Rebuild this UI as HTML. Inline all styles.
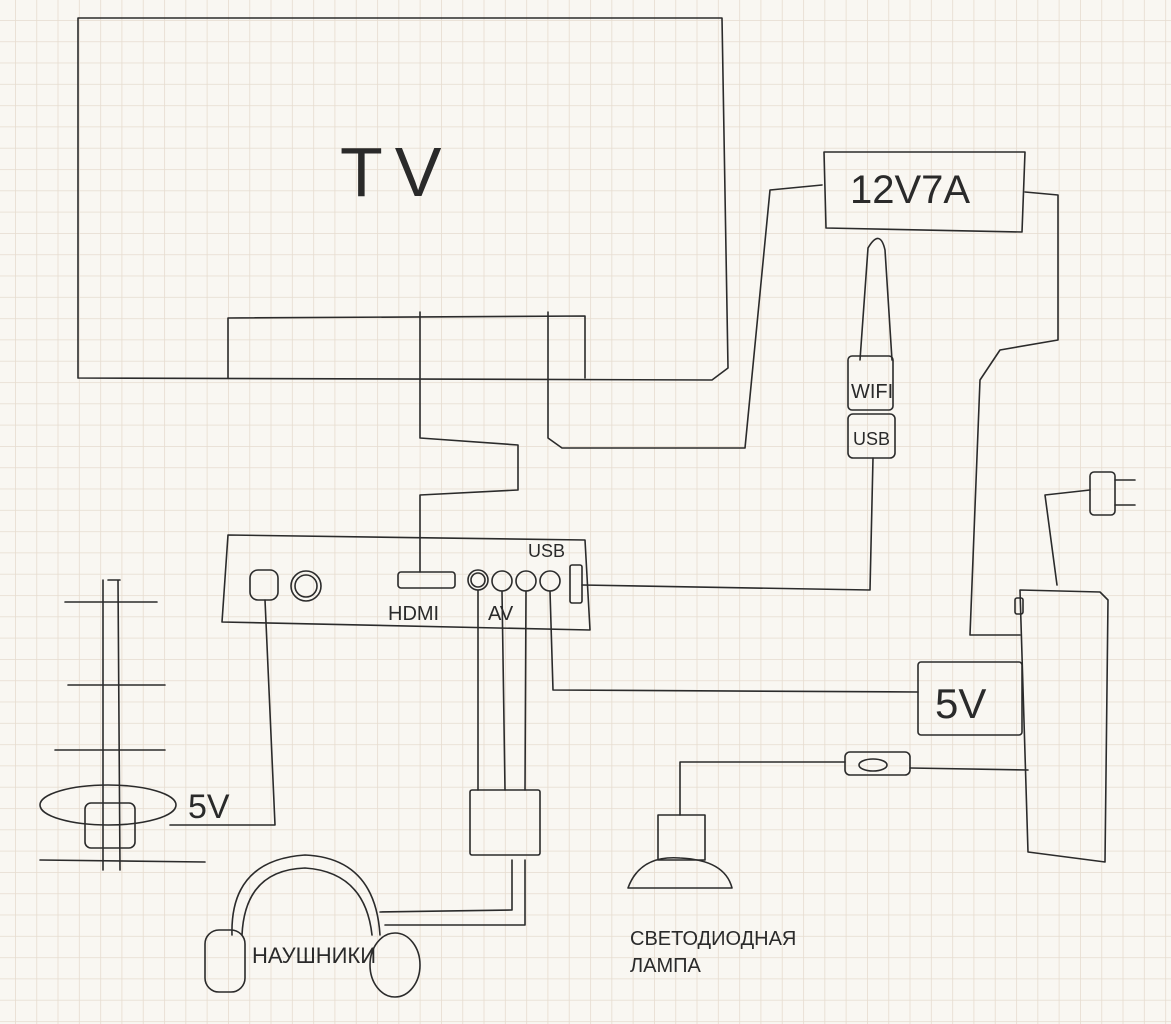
<!DOCTYPE html>
<html><head><meta charset="utf-8"><style>
html,body{margin:0;padding:0;background:#f9f7f2}
svg{display:block}
text{font-family:"Liberation Sans","DejaVu Sans",sans-serif;fill:#2a2a2a}
</style></head><body>
<svg width="1171" height="1024" viewBox="0 0 1171 1024" xmlns="http://www.w3.org/2000/svg">
<defs>
<pattern id="g" x="15" y="20" width="21.3" height="21.3" patternUnits="userSpaceOnUse">
<path d="M0 0H21.3M0 0V21.3" stroke="#e6dccf" stroke-width="1.6" fill="none"/>
</pattern>
</defs>
<rect width="1171" height="1024" fill="#f9f7f2"/>
<rect width="1171" height="1024" fill="url(#g)"/>
<g fill="none" stroke="#2b2b2b" stroke-width="1.6" stroke-linecap="round" stroke-linejoin="round">
<path d="M78 18 L722 18 L728 368 L712 380 L78 378 Z"/>
<path d="M228 378 L228 318 L585 316 L585 378"/>
<path d="M420 312 L420 438 L518 445 L518 490 L420 495 L420 572"/>
<path d="M548 312 L548 438 L562 448 L745 448 L770 190 L822 185"/>
<path d="M824 152 L1025 152 L1022 232 L826 228 Z"/>
<path d="M1025 192 L1058 195 L1058 340 L1000 350 L980 380 L970 635 L1020 635"/>
<path d="M860 360 L868 248 Q880 228 885 250 L892 360"/>
<rect x="848" y="356" width="45" height="54" rx="4"/>
<rect x="848" y="414" width="47" height="44" rx="5"/>
<path d="M873 458 L870 590 L582 585"/>
<path d="M228 535 L585 540 L590 630 L222 622 Z"/>
<rect x="250" y="570" width="28" height="30" rx="8"/>
<circle cx="306" cy="586" r="15"/><circle cx="306" cy="586" r="11"/>
<rect x="398" y="572" width="57" height="16" rx="3"/>
<circle cx="478" cy="580" r="10"/><circle cx="478" cy="580" r="7"/>
<circle cx="502" cy="581" r="10"/><circle cx="526" cy="581" r="10"/><circle cx="550" cy="581" r="10"/>
<rect x="570" y="565" width="12" height="38" rx="2"/>
<path d="M265 600 L275 825 L170 825"/>
<path d="M65 602 L157 602 M68 685 L165 685 M55 750 L165 750 M40 860 L205 862"/>
<path d="M103 580 L103 870 M118 580 L120 870 M108 580 L120 580"/>
<ellipse cx="108" cy="805" rx="68" ry="20"/>
<rect x="85" y="803" width="50" height="45" rx="6"/>
<path d="M478 590 L478 790 M502 591 L505 790 M526 591 L525 790"/>
<rect x="470" y="790" width="70" height="65" rx="2"/>
<path d="M512 860 L512 910 L380 912 M525 860 L525 925 L385 925"/>
<path d="M232 935 Q230 860 305 855 Q375 858 380 935"/>
<path d="M242 935 Q245 870 305 868 Q365 872 372 935"/>
<rect x="205" y="930" width="40" height="62" rx="14"/>
<ellipse cx="395" cy="965" rx="25" ry="32"/>
<path d="M550 591 L553 690 L918 692"/>
<rect x="918" y="662" width="104" height="73" rx="3"/>
<path d="M1020 590 L1100 592 L1108 600 L1105 862 L1028 852 Z"/>
<rect x="1015" y="598" width="8" height="16" rx="2"/>
<path d="M1057 585 L1045 495 L1090 490"/>
<rect x="1090" y="472" width="25" height="43" rx="4"/>
<path d="M1115 480 L1135 480 M1115 505 L1135 505"/>
<rect x="845" y="752" width="65" height="23" rx="5"/>
<ellipse cx="873" cy="765" rx="14" ry="6"/>
<path d="M910 768 L1028 770 M845 762 L680 762 L680 815"/>
<rect x="658" y="815" width="47" height="45"/>
<path d="M628 888 Q640 855 680 858 Q725 860 732 888 Z"/>
</g>
<text x="340" y="196" font-size="70" fill="#333" style="letter-spacing:12px">TV</text>
<text x="850" y="203" font-size="40">12V7A</text>
<text x="851" y="398" font-size="20">WIFI</text>
<text x="853" y="445" font-size="18">USB</text>
<text x="528" y="557" font-size="18">USB</text>
<text x="388" y="620" font-size="20">HDMI</text>
<text x="488" y="620" font-size="20">AV</text>
<text x="188" y="818" font-size="34">5V</text>
<text x="935" y="718" font-size="42">5V</text>
<text x="252" y="963" font-size="22">НАУШНИКИ</text>
<text x="630" y="945" font-size="20">СВЕТОДИОДНАЯ</text>
<text x="630" y="972" font-size="20">ЛАМПА</text>
</svg>
</body></html>
